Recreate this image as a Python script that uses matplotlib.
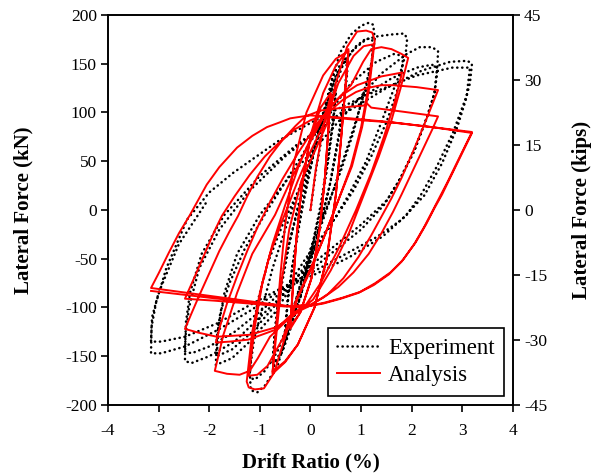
import matplotlib
matplotlib.use("Agg")
import matplotlib.pyplot as plt

# ---------------- data (drift ratio %, lateral force kN) ----------------
EXP_DRIFT = [
    0.00, 0.12, 0.28, 0.45, 0.50,
    0.45, 0.35, 0.20, 0.00, -0.20, -0.38, -0.50,
    -0.45, -0.35, -0.20, 0.00, 0.20, 0.38, 0.50,
    0.45, 0.35, 0.20, 0.00, -0.20, -0.38, -0.50,
    -0.45, -0.32, -0.15, 0.05, 0.30, 0.50, 0.68, 0.75,
    0.70, 0.58, 0.40, 0.15, -0.10, -0.35, -0.55, -0.72, -0.75,
    -0.70, -0.58, -0.40, -0.15, 0.10, 0.35, 0.55, 0.72,
    0.68, 0.55, 0.38, 0.12, -0.12, -0.38, -0.58, -0.75,
    -0.70, -0.60, -0.45, -0.25, 0.00, 0.20, 0.39, 0.58, 0.80, 1.00, 1.15, 1.24,
    1.27, 1.20, 1.04, 0.85, 0.60, 0.30, 0.00, -0.25, -0.45, -0.65, -0.90, -1.05, -1.18,
    -1.20, -1.12, -0.95, -0.75, -0.50, -0.20, 0.15, 0.40, 0.65, 0.90, 1.10, 1.22,
    1.22, 1.12, 0.95, 0.70, 0.45, 0.15, -0.15, -0.40, -0.65, -0.90, -1.10, -1.20,
    -1.15, -1.05, -0.85, -0.55, -0.15, 0.20, 0.45, 0.84, 1.10, 1.31, 1.60, 1.85, 1.91,
    1.88, 1.80, 1.63, 1.40, 1.10, 0.75, 0.35, -0.15, -0.70, -1.20, -1.55, -1.87,
    -1.85, -1.78, -1.60, -1.30, -0.85, -0.30, 0.30, 0.80, 1.30, 1.65, 1.83,
    1.80, 1.70, 1.50, 1.20, 0.85, 0.40, -0.10, -0.65, -1.15, -1.55, -1.85,
    -1.82, -1.70, -1.45, -1.00, -0.40, 0.20, 0.80, 1.40, 1.90, 2.16, 2.40, 2.52,
    2.50, 2.45, 2.30, 2.05, 1.75, 1.45, 1.00, 0.40, -0.30, -0.90, -1.50, -2.00, -2.35, -2.48,
    -2.47, -2.40, -2.20, -1.80, -1.20, -0.50, 0.30, 1.00, 1.60, 2.10, 2.40, 2.50,
    2.45, 2.30, 2.05, 1.77, 1.51, 1.00, 0.40, -0.30, -0.90, -1.50, -2.00, -2.35, -2.48,
    -2.46, -2.38, -2.15, -1.70, -1.00, -0.20, 0.70, 1.50, 2.20, 2.76, 3.10, 3.19,
    3.15, 3.09, 2.82, 2.50, 2.20, 1.90, 1.43, 0.78, 0.13, -0.58, -1.18, -1.83, -2.48, -2.95, -3.15,
    -3.14, -3.05, -2.85, -2.44, -2.00, -1.53, -0.60, 0.20, 1.11, 2.10, 2.80, 3.15,
    3.08, 2.90, 2.60, 2.25, 1.80, 1.30, 0.70, 0.10, -0.50, -1.18, -1.83, -2.48, -2.95, -3.15,
    -3.13, -3.00, -2.60, -2.03,
]
EXP_FORCE = [
    0, 45, 90, 120, 124,
    95, 55, 5, -45, -90, -115, -125,
    -95, -55, -5, 45, 90, 112, 120,
    90, 50, 0, -45, -88, -112, -122,
    -90, -45, 5, 55, 105, 138, 155, 158,
    125, 80, 30, -25, -70, -115, -145, -160, -158,
    -125, -80, -30, 25, 70, 115, 142, 155,
    120, 75, 25, -30, -75, -118, -145, -160,
    -120, -80, -40, 0, 45, 90, 126, 161, 180, 189, 192, 190,
    175, 150, 118, 80, 40, 0, -40, -85, -125, -160, -180, -187, -185,
    -165, -135, -100, -60, -20, 25, 75, 115, 150, 168, 176, 175,
    155, 130, 100, 60, 20, -25, -70, -110, -145, -165, -174, -172,
    -130, -95, -55, -15, 30, 80, 140, 164, 175, 178, 180, 181, 176,
    160, 145, 122, 90, 50, 15, -20, -60, -105, -135, -152, -159,
    -130, -105, -75, -40, 0, 45, 95, 130, 152, 160, 158,
    140, 120, 90, 55, 20, -15, -50, -95, -125, -143, -150,
    -120, -85, -45, -5, 35, 70, 105, 140, 160, 167, 167, 163,
    140, 120, 95, 60, 30, 5, -20, -45, -75, -105, -135, -150, -157, -155,
    -130, -100, -60, -20, 20, 55, 88, 115, 135, 146, 149, 146,
    120, 95, 62, 32, 10, -15, -40, -70, -100, -125, -140, -147, -145,
    -115, -85, -45, -5, 35, 70, 100, 125, 143, 152, 153, 150,
    130, 118, 80, 45, 17, -5, -27, -48, -65, -82, -103, -123, -140, -147, -147,
    -120, -95, -60, -10, 18, 38, 72, 95, 118, 138, 146, 146,
    115, 85, 48, 15, -10, -28, -45, -62, -78, -97, -116, -130, -135, -135,
    -110, -85, -35, 10,
]

ANA_DRIFT = [
    0.00, 0.10, 0.25, 0.40,
    0.35, 0.28, 0.18, 0.02, -0.20, -0.40,
    -0.35, -0.28, -0.18, -0.02, 0.20, 0.40,
    0.35, 0.28, 0.18, 0.02, -0.20, -0.40,
    -0.34, -0.27, -0.16, 0.02, 0.25, 0.50, 0.75,
    0.68, 0.60, 0.50, 0.32, 0.08, -0.25, -0.50, -0.75,
    -0.68, -0.60, -0.50, -0.32, -0.08, 0.25, 0.50, 0.75,
    0.68, 0.60, 0.50, 0.32, 0.08, -0.25, -0.50, -0.75,
    -0.66, -0.56, -0.42, -0.18, 0.10, 0.32, 0.50, 0.72, 0.92, 1.10, 1.22, 1.27,
    1.16, 1.02, 0.82, 0.55, 0.25, 0.00, -0.25, -0.50, -0.72, -0.92, -1.10, -1.22, -1.26,
    -1.15, -1.00, -0.80, -0.55, -0.25, 0.00, 0.28, 0.55, 0.85, 1.05, 1.25,
    1.14, 1.00, 0.80, 0.55, 0.25, 0.00, -0.28, -0.55, -0.85, -1.05, -1.22,
    -1.10, -0.95, -0.75, -0.50, -0.20, 0.15, 0.50, 0.80, 1.04, 1.20, 1.40, 1.60, 1.80, 1.93,
    1.78, 1.60, 1.35, 1.05, 0.75, 0.40, 0.05, -0.20, -0.50, -0.80, -1.04, -1.20, -1.40, -1.65, -1.89,
    -1.72, -1.45, -1.15, -0.70, -0.35, 0.00, 0.30, 0.60, 0.92, 1.40, 1.81,
    1.66, 1.45, 1.20, 0.90, 0.55, 0.20, -0.10, -0.35, -0.70, -1.23, -1.60, -1.87,
    -1.78, -1.65, -1.45, -1.25, -1.05, -0.80, -0.55, -0.25, 0.00, 0.30, 0.64, 0.90, 1.11,
    1.40, 1.63, 2.10, 2.52,
    2.42, 2.25, 2.05, 1.80, 1.60, 1.41, 1.20, 0.95, 0.65, 0.35, 0.00, -0.20, -0.66, -1.20,
    -1.85, -2.20, -2.48,
    -2.35, -2.20, -2.00, -1.80, -1.60, -1.43, -1.25, -1.05, -0.80, -0.55, -0.30, -0.10, 0.20,
    0.50, 0.80, 1.04, 1.12, 1.20, 1.80, 2.52,
    2.40, 2.20, 2.00, 1.80, 1.63, 1.40, 1.15, 0.85, 0.55, 0.25, 0.00, -0.50, -1.20, -1.90, -2.48,
    -2.30, -2.10, -1.90, -1.75, -1.50, -1.20, -0.90, -0.60, -0.30, 0.00, 0.19, 1.00, 1.57,
    2.40, 3.19,
    3.00, 2.85, 2.70, 2.56, 2.42, 2.25, 2.05, 1.80, 1.55, 1.25, 0.95, 0.60, 0.25, -0.20,
    -1.00, -2.00, -3.15,
    -3.00, -2.80, -2.60, -2.38, -2.20, -2.05, -1.80, -1.45, -1.15, -0.86, -0.60, -0.40, -0.15,
    0.00, 0.80, 1.60, 2.40, 3.19,
    3.02, 2.88, 2.73, 2.60, 2.45, 2.28, 2.08, 1.83, 1.58, 1.28, 0.98, 0.63, 0.28, -0.18,
    -1.00, -2.00, -3.15,
]
ANA_FORCE = [
    0, 40, 85, 118,
    80, 30, -20, -70, -105, -120,
    -80, -30, 20, 70, 105, 120,
    80, 30, -20, -70, -105, -122,
    -75, -25, 30, 80, 120, 148, 165,
    120, 70, 15, -50, -100, -138, -156, -168,
    -120, -70, -15, 50, 100, 138, 155, 163,
    120, 70, 15, -50, -100, -138, -155, -166,
    -120, -70, -20, 30, 62, 88, 130, 167, 183, 184, 182, 174,
    125, 85, 45, 10, -30, -62, -90, -130, -167, -183, -184, -182, -176,
    -125, -85, -45, -10, 30, 60, 90, 130, 158, 168, 170,
    125, 85, 45, 10, -30, -60, -92, -132, -160, -169, -170,
    -120, -75, -35, 5, 50, 90, 112, 128, 152, 165, 167, 165, 160, 156,
    125, 92, 55, 15, -25, -62, -92, -102, -115, -130, -152, -165, -169, -168, -165,
    -128, -85, -45, -5, 35, 70, 100, 117, 128, 137, 141,
    110, 75, 38, 0, -40, -75, -98, -106, -123, -133, -135, -136,
    -118, -96, -68, -42, -18, 8, 32, 58, 78, 98, 113, 121, 125,
    128, 128, 126, 123,
    110, 88, 63, 33, 12, -6, -26, -48, -70, -86, -98, -103, -120, -128,
    -130, -126, -122,
    -106, -88, -65, -42, -22, -6, 14, 34, 55, 72, 86, 96, 102,
    104, 106, 107, 109, 105, 101, 96,
    82, 60, 38, 16, -2, -24, -45, -64, -79, -90, -97, -99, -96, -93, -91,
    -70, -46, -22, -6, 14, 36, 55, 70, 83, 92, 96, 92, 90,
    85, 80,
    60, 44, 28, 14, 0, -17, -35, -53, -66, -77, -85, -91, -96, -100,
    -95, -88, -80,
    -65, -44, -24, -5, 12, 26, 44, 64, 76, 85, 90, 94, 96,
    97, 94, 90, 85, 79,
    61, 46, 30, 16, 2, -15, -33, -51, -64, -75, -84, -90, -95, -100,
    -96, -90, -83,
]

X_TICKS = [-4, -3, -2, -1, 0, 1, 2, 3, 4]
KN_TICKS = [-200, -150, -100, -50, 0, 50, 100, 150, 200]
KIP_TICKS = [-45, -30, -15, 0, 15, 30, 45]

# ---------------- figure ----------------
plt.rcParams['font.family'] = ['Liberation Serif', 'DejaVu Serif']

fig = plt.figure(figsize=(6.04, 4.73), dpi=100)
ax = fig.add_axes([0.1788, 0.1438, 0.6705, 0.8245])

ax.plot(EXP_DRIFT, EXP_FORCE, color='black', lw=1.8,
        linestyle=(0, (0.1, 1.9)), dash_capstyle='round', label='Experiment')
ax.plot(ANA_DRIFT, ANA_FORCE, color='#ff0000', lw=1.4, label='Analysis')

ax.set_xlim(-4, 4)
ax.set_ylim(-200, 200)
ax.set_xticks(X_TICKS)
ax.set_yticks(KN_TICKS)
ax.set_xticklabels([str(v) for v in X_TICKS])
ax.set_yticklabels([str(v) for v in KN_TICKS])

for sp in ax.spines.values():
    sp.set_linewidth(1.2)
ax.tick_params(direction='out', length=5, width=1.2, labelsize=12.5)
ax.tick_params(axis='x', pad=8)
ax.tick_params(axis='y', pad=3)

ax.set_xlabel('Drift Ratio (%)', fontsize=15, fontweight='bold', labelpad=10)
ax.set_ylabel('Lateral Force (kN)', fontsize=15, fontweight='bold', labelpad=23)

ax2 = ax.twinx()
ax2.set_ylim(-45, 45)
ax2.set_yticks(KIP_TICKS)
ax2.set_yticklabels([str(v) for v in KIP_TICKS])
ax2.tick_params(direction='out', length=5, width=1.2, labelsize=12.5, pad=3)
for sp in ax2.spines.values():
    sp.set_linewidth(1.2)
ax2.set_ylabel('Lateral Force (kips)', fontsize=15, fontweight='bold', labelpad=18)

leg = ax.legend(loc='lower right', bbox_to_anchor=(0.978, 0.024), borderaxespad=0,
                fontsize=16.5, frameon=True, fancybox=False, framealpha=1,
                edgecolor='black', handlelength=1.9, handletextpad=0.35,
                borderpad=0.4, labelspacing=0.3)
leg.get_frame().set_linewidth(1.2)

fig.savefig('out.png', dpi=100)
